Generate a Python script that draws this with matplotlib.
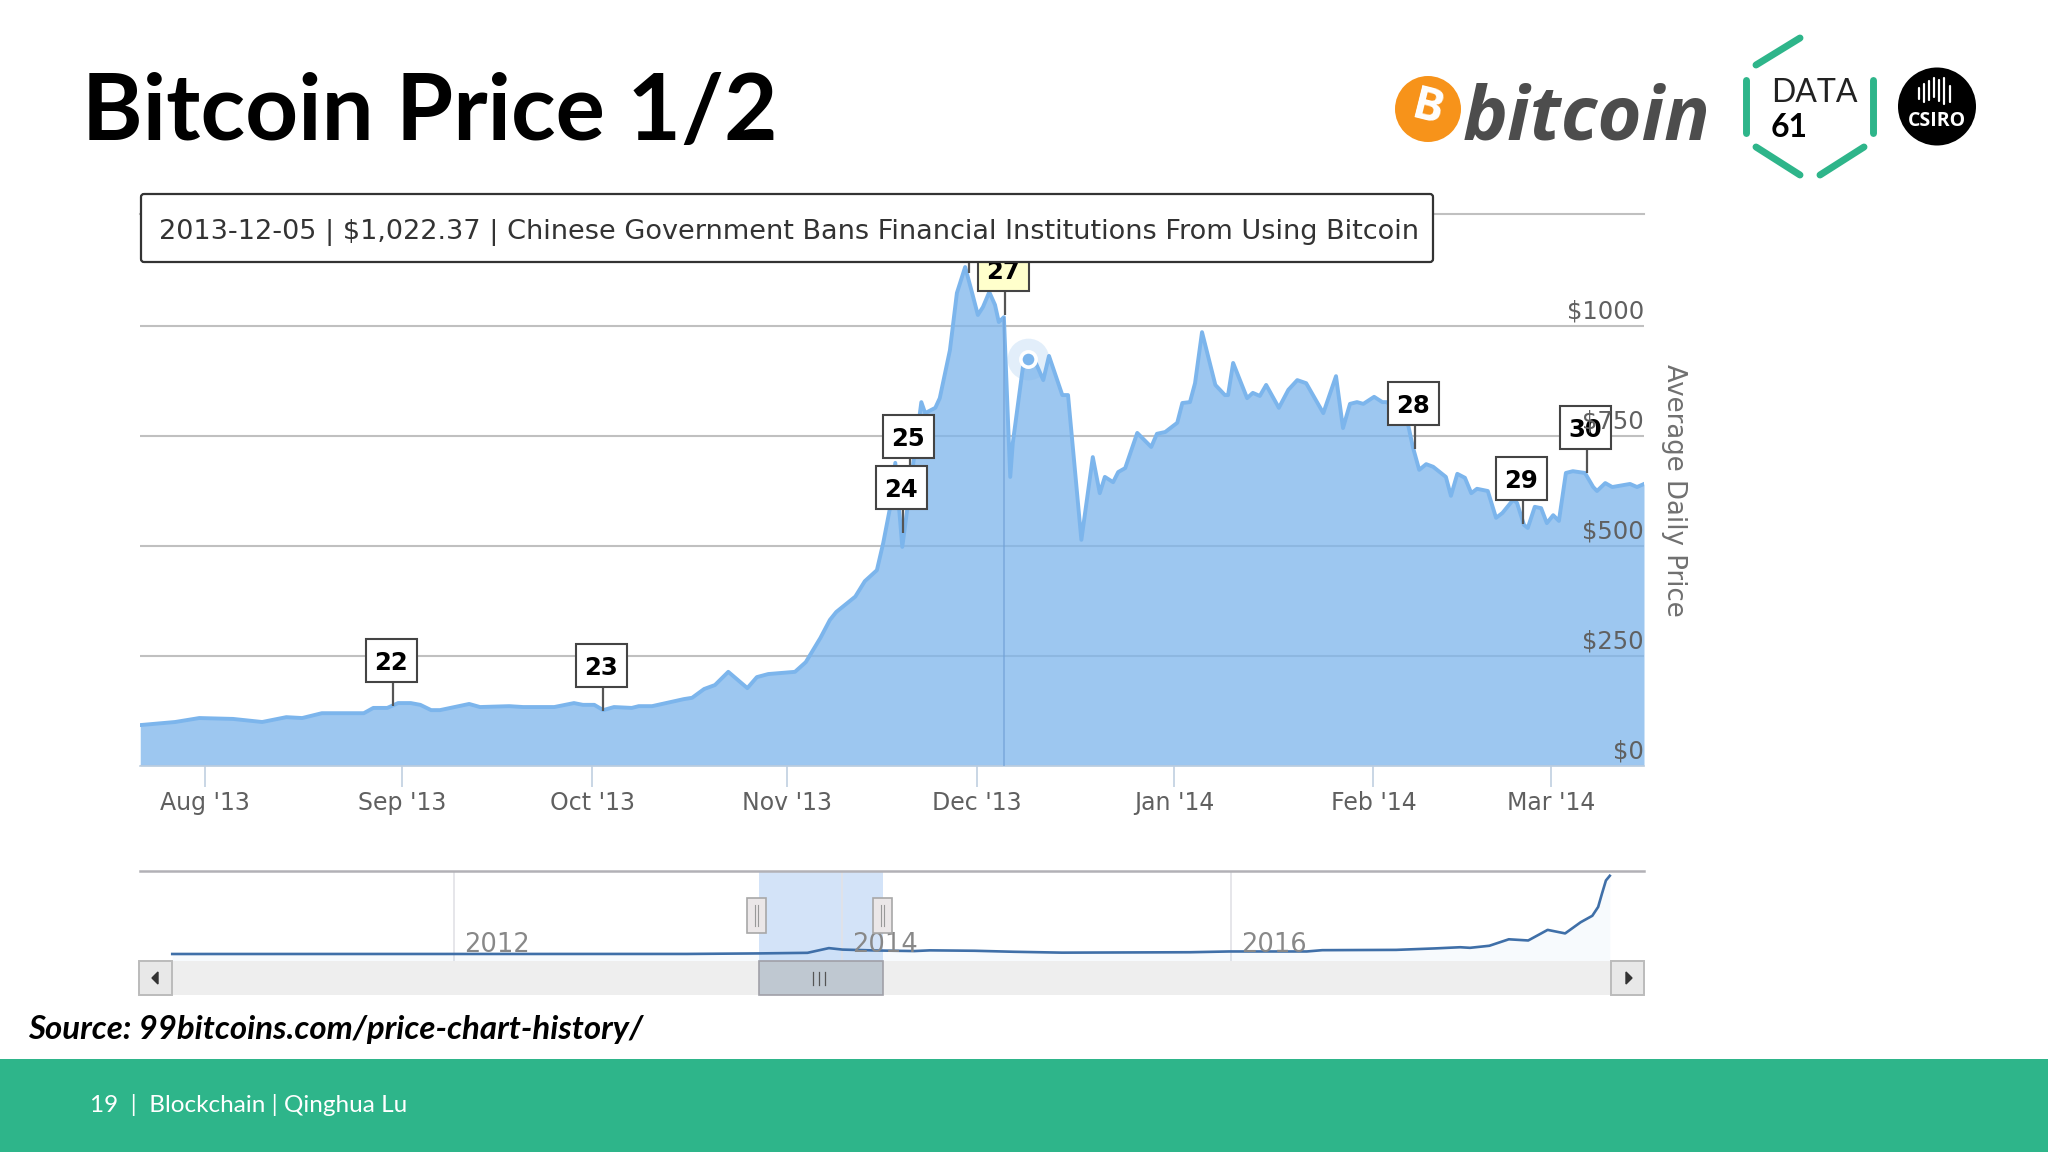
import matplotlib
matplotlib.use("Agg")
import matplotlib.pyplot as plt
from matplotlib.patches import Rectangle, Circle, FancyBboxPatch

W, H = 2048, 1152

# main chart, days counted from 1 Aug 2013
days = [-10.2, -4.7, -0.9, 4.4, 9.0, 12.8, 15.3, 18.4, 25.0, 26.5, 28.7, 30.4, 32.4, 33.9, 35.6, 37.0,
        41.6, 43.3, 47.9, 50.1, 55.0, 58.1, 59.5, 61.3, 62.7, 64.4, 67.2, 68.3, 70.4, 75.4, 76.7, 78.6,
        80.3, 82.4, 85.4, 86.9, 88.7, 92.9, 94.6, 96.9, 98.4, 99.4, 102.4, 103.9, 105.8, 106.8, 107.9,
        108.7, 109.8, 112.8, 113.4, 115.0, 115.7, 117.3, 118.4, 119.7, 120.8, 121.7, 122.5, 123.5, 124.4,
        125.0, 125.8, 126.8, 127.2, 128.8, 130.4, 132.0, 132.9, 135.0, 135.9, 138.0, 139.8, 140.9, 141.7,
        143.0, 143.8, 144.9, 146.8, 149.0, 149.9, 151.2, 153.1, 153.9, 155.1, 155.9, 157.0, 159.1, 160.6,
        161.1, 161.9, 164.1, 165.0, 166.1, 167.1, 169.1, 170.6, 172.0, 173.4, 176.1, 178.1, 179.2, 180.3,
        181.4, 182.4, 184.1, 185.4, 186.1, 189.3, 190.2, 191.2, 192.3, 193.4, 195.4, 196.2, 197.2, 198.4,
        199.4, 200.3, 202.0, 203.3, 204.3, 206.0, 206.6, 207.7, 208.3, 209.4, 210.4, 211.3, 212.3, 213.2,
        214.3, 215.4, 217.3, 218.6, 219.2, 220.5, 221.6, 224.4, 225.5, 226.6]
prices = [93, 100, 109, 107, 100, 111, 109, 120, 120, 132, 132, 143, 143, 139, 127, 127,
          141, 134, 136, 134, 134, 143, 139, 139, 127, 134, 132, 136, 136, 152, 155, 175,
          184, 214, 177, 202, 209, 214, 236, 291, 332, 350, 385, 420, 445, 507, 589,
          689, 498, 827, 802, 814, 836, 945, 1075, 1134, 1075, 1025, 1043, 1077, 1048,
          1009, 1020, 657, 734, 907, 930, 877, 932, 843, 843, 514, 702, 620, 657,
          645, 668, 677, 757, 725, 755, 759, 780, 825, 827, 870, 986, 866, 843,
          843, 916, 836, 848, 841, 866, 814, 855, 877, 870, 802, 886, 768, 823,
          827, 823, 839, 827, 827, 786, 725, 673, 686, 680, 657, 614, 664, 655,
          620, 630, 625, 564, 575, 605, 598, 548, 541, 589, 586, 552, 570, 557,
          666, 670, 666, 634, 625, 643, 634, 641, 634, 641]

month_days = [0, 31, 61, 91.6, 121.6, 152.6, 184, 212]
month_labels = ["Aug '13", "Sep '13", "Oct '13", "Nov '13", "Dec '13", "Jan '14", "Feb '14", "Mar '14"]
price_ticks = [0, 250, 500, 750, 1000]
price_labels = ["$0", "$250", "$500", "$750", "$1000"]

flag_labels = ["22", "23", "25", "24", "26", "27", "28", "29", "30"]
flag_days = [29.6, 62.7, 111.0, 109.9, 120.3, 126.0, 190.6, 207.6, 217.6]
flag_prices = [136, 125, 645, 530, 1120, 1025, 720, 550, 666]

tooltip_text = "2013-12-05 | $1,022.37 | Chinese Government Bans Financial Institutions From Using Bitcoin"
tooltip_day = 125.8
tooltip_price = 1020
hover_day = 129.6
hover_price = 925

# navigator series
nav_years = [2010.55, 2013.2, 2013.57, 2013.82, 2013.93, 2014.0, 2014.17, 2014.37, 2014.45, 2014.68, 2014.88,
             2015.13, 2015.79, 2015.99, 2016.39, 2016.47, 2016.85, 2017.05, 2017.18, 2017.23, 2017.33, 2017.43,
             2017.53, 2017.63, 2017.72, 2017.8, 2017.86, 2017.89, 2017.91, 2017.93, 2017.95]
nav_prices = [0, 10, 100, 200, 1000, 750, 600, 500, 620, 550, 380,
              230, 300, 430, 430, 650, 700, 950, 1150, 1050, 1400, 2500,
              2300, 4100, 3500, 5400, 6500, 8000, 10300, 12500, 13300]
nav_year_ticks = [2012, 2014, 2016]


def rect(l, t, r, b):
    return [l / W, 1 - b / H, (r - l) / W, (b - t) / H]


fig = plt.figure(figsize=(W / 100, H / 100), dpi=100, facecolor="white")

# main chart
ax = fig.add_axes(rect(140, 214, 1644, 766))
ax.set_xlim(-10.24, 226.6)
ax.set_ylim(0, 1254.5)
ax.fill_between(days, prices, 0, color="#7cb5ec", alpha=0.75, lw=0, zorder=2)
ax.plot(days, prices, color="#7cb5ec", lw=2.8, zorder=3, solid_joinstyle="round")
ax.vlines(tooltip_day, 0, tooltip_price, color="#6f9fd6", lw=1.4, alpha=0.6, zorder=4)
ax.set_yticks(price_ticks, [""] * len(price_ticks))
ax.yaxis.grid(True, color="#c0c0c0", lw=1.5, zorder=1)
ax.set_axisbelow(True)
ax.set_xticks(month_days, month_labels)
ax.tick_params(axis="x", length=15, width=1.2, color="#c0d0e0", labelsize=17, labelcolor="#606060", pad=3)
ax.tick_params(axis="y", length=0)
for s in ["left", "right"]:
    ax.spines[s].set_visible(False)
ax.spines["top"].set_color("#c0c0c0")
ax.spines["top"].set_linewidth(1.5)
ax.spines["bottom"].set_color("#c0d0e0")
ax.spines["bottom"].set_linewidth(1.2)
ax.patch.set_alpha(0)

ax.plot([hover_day], [hover_price], "o", ms=30, mfc="#7cb5ec", mec="none", alpha=0.22, zorder=5)
ax.plot([hover_day], [hover_price], "o", ms=11, mfc="#7cb5ec", mec="white", mew=2.6, zorder=6)

# navigator
nav = fig.add_axes(rect(140, 871, 1644, 961))
nav.set_xlim(2010.384, 2018.126)
nav.set_ylim(-1190, 14110)
nav.axvspan(2010.384 + (759 - 140) / 194.25, 2010.384 + (883 - 140) / 194.25, color="#d3e3f8", lw=0, zorder=1)
nav.fill_between(nav_years, nav_prices, -1190, color="#7cb5ec", alpha=0.06, lw=0, zorder=2)
nav.plot(nav_years, nav_prices, color="#3f6fa8", lw=1.9, zorder=3)
nav.vlines(nav_year_ticks, -1190, 14110, color="#e2e2e6", lw=1.2, zorder=1.5)
for y in nav_year_ticks:
    nav.text(y + 0.05, 300, str(y), color="#888888", fontsize=18.5, ha="left", va="baseline", zorder=4)
nav.set_xticks([])
nav.set_yticks([])
for s in ["left", "right", "bottom"]:
    nav.spines[s].set_visible(False)
nav.spines["top"].set_color("#b2b1b6")
nav.spines["top"].set_linewidth(1.8)
nav.patch.set_alpha(0)

# slide layer, in reference pixels
slide = fig.add_axes([0, 0, 1, 1])
slide.set_xlim(0, W)
slide.set_ylim(H, 0)
slide.axis("off")
slide.patch.set_alpha(0)


def to_slide(day, price):
    return slide.transData.inverted().transform(ax.transData.transform((day, price)))


# flags
for label, d, p in zip(flag_labels, flag_days, flag_prices):
    sx, sy = to_slide(d, p)
    face = "#ffffcc" if label == "27" else "white"
    slide.plot([sx, sx], [sy, sy - 24], color="#555555", lw=1.6, zorder=5, solid_capstyle="butt")
    slide.add_patch(Rectangle((sx - 27, sy - 67), 51, 43, fc=face, ec="#444444", lw=1.5, zorder=5))
    slide.text(sx - 2, sy - 43, label, fontsize=17.5, fontweight="bold", color="black",
               ha="center", va="center", zorder=6)

# price labels sit above the flags
for t, lab in zip(price_ticks, price_labels):
    sx, sy = to_slide(226.6, t)
    slide.text(sx, sy - 7, lab, fontsize=17.5, color="#606060", ha="right", va="baseline", zorder=7)
slide.text(1674, 490, "Average Daily Price", rotation=270, fontsize=18.7, color="#707070",
           ha="center", va="center")

# tooltip
slide.add_patch(FancyBboxPatch((141, 194), 1292, 68, boxstyle="round,pad=0,rounding_size=3",
                               fc="white", ec="#333333", lw=1.6, zorder=8))
slide.text(159, 233, tooltip_text, fontsize=19.5, color="#333333", ha="left", va="center", zorder=9)

# scrollbar
slide.add_patch(Rectangle((140, 961), 1504, 34, fc="#eeeeee", ec="none", zorder=1))
slide.add_patch(Rectangle((759, 961), 124, 34, fc="#bfc8d1", ec="#a0a0a8", lw=1.2, zorder=2))
for gx in [813, 819, 825]:
    slide.plot([gx, gx], [972, 985], color="#555555", lw=0.9, zorder=3)
for bx in [139, 1611]:
    slide.add_patch(Rectangle((bx, 961), 33, 34, fc="#e8e8e8", ec="#bbbbbb", lw=1.4, zorder=3))
slide.fill([158, 158, 152], [972, 984, 978], color="#333333", zorder=4)
slide.fill([1626, 1626, 1632], [972, 984, 978], color="#333333", zorder=4)
for hx in [747, 873]:
    slide.add_patch(Rectangle((hx, 898), 19, 35, fc="#ebe7e8", ec="#a8a8a8", lw=1.2, zorder=3))
    slide.plot([hx + 8, hx + 8], [905, 926], color="#999999", lw=0.8, zorder=4)
    slide.plot([hx + 11, hx + 11], [905, 926], color="#999999", lw=0.8, zorder=4)

# title, source, footer
slide.text(82, 114, "Bitcoin Price 1/2", fontsize=66.5, fontweight="bold", family="Lato", color="black",
           ha="left", va="center")
slide.text(28, 1029, "Source: 99bitcoins.com/price-chart-history/", fontsize=23.8, fontweight="bold",
           fontstyle="italic", family="Lato", color="black", ha="left", va="center")
slide.add_patch(Rectangle((0, 1059), W, 93, fc="#2eb58a", ec="none"))
slide.text(90, 1105, "19  |  Blockchain | Qinghua Lu", fontsize=17.5, family="Lato", color="white",
           ha="left", va="center")

# bitcoin logo
slide.add_patch(Circle((1428, 109), 33, fc="#f7931a", ec="none"))
slide.text(1428, 109, "B", fontsize=33, fontweight="bold", family="Open Sans", color="white", rotation=-14,
           ha="center", va="center")
slide.text(1463, 140, "bitcoin", fontsize=54.5, fontweight="bold", fontstyle="italic", family="Open Sans",
           color="#4d4d4d", ha="left", va="baseline")

# data61 logo
green = "#2eb58a"
for (x0, y0), (x1, y1) in [((1800, 38), (1756, 65)), ((1746, 80), (1746, 133)), ((1873, 80), (1873, 133)),
                           ((1756, 147), (1800, 175)), ((1864, 147), (1820, 175))]:
    slide.plot([x0, x1], [y0, y1], color=green, lw=5, solid_capstyle="round")
slide.text(1771, 102, "DATA", fontsize=23, family="Lato", color="#222222", ha="left", va="baseline")
slide.text(1771, 137, "61", fontsize=23, fontweight="bold", family="Lato", color="black", ha="left", va="baseline")

# csiro logo
slide.add_patch(Circle((1937, 106.5), 39, fc="black", ec="none"))
for bx, b0, b1 in [(1919, 88, 99), (1924, 84, 102), (1929, 81, 100), (1934, 78, 97), (1939, 80, 101),
                   (1944, 78, 104), (1950, 86, 102)]:
    slide.plot([bx, bx], [b0, b1], color="white", lw=1.6, solid_capstyle="round")
slide.text(1937, 121, "CSIRO", fontsize=14, fontweight="bold", family="Open Sans", color="white",
           ha="center", va="center")

fig.savefig("out.png", dpi=100)
